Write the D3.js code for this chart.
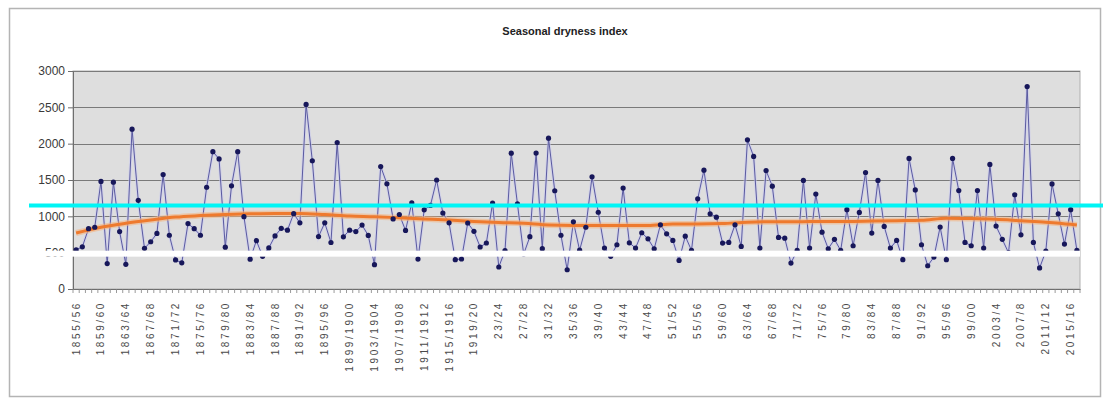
<!DOCTYPE html>
<html>
<head>
<meta charset="utf-8">
<script src="https://cdn.jsdelivr.net/npm/d3@7"></script>
<style>
  body { margin: 0; background: #fff; }
  svg { display: block; font-family: "Liberation Sans", Arial, sans-serif; }
</style>
</head>
<body>
<svg id="chart" width="1107" height="402"></svg>
<script>
// Season start years, 1855/56 through 2016/17
const seasonStart = d3.range(1855, 2017);

// Seasonal dryness index, one value per season
const dryness = [
  540, 580, 830, 850, 1480, 350, 1470, 790, 340, 2200,
  1220, 560, 650, 765, 1575, 740, 400, 360, 900, 830,
  740, 1400, 1890, 1790, 575, 1420, 1890, 995, 410, 665,
  450, 565, 730, 835, 810, 1036, 910, 2540, 1765, 722,
  910, 640, 2016, 718, 810, 790, 880, 737, 335, 1686,
  1448, 965, 1025, 806, 1185, 412, 1090, 1150, 1500, 1045,
  910, 404, 413, 908, 794, 578, 633, 1182, 303, 530,
  1869, 1172, 480, 720, 1870, 555, 2075, 1352, 740, 265,
  924, 534, 850, 1545, 1056, 563, 450, 609, 1389, 636,
  563, 774, 691, 554, 883, 759, 668, 393, 727, 531,
  1241, 1635, 1035, 989, 632, 641, 884, 586, 2053, 1824,
  563, 1630, 1415, 710, 700, 357, 531, 1494, 563, 1306,
  782, 554, 683, 531, 1091, 595, 1054, 1603, 769, 1494,
  861, 563, 669, 403, 1797, 1364, 609, 320, 440, 853,
  403, 1797, 1355, 641, 595, 1355, 563, 1714, 866, 683,
  500, 1297, 746, 2785, 641, 290, 520, 1446, 1035, 618,
  1091, 531
];

// Smoothed trend, sampled at every fourth season
const trendIndex = [0, 4, 8, 12, 16, 20, 24, 28, 32, 36, 40, 44, 48, 52, 56, 60, 64, 68, 72, 76,
  80, 84, 88, 92, 96, 100, 104, 108, 112, 116, 120, 124, 128, 132, 136, 140, 144, 148, 152, 156, 160, 161];
const trendValues = [770, 850, 905, 950, 990, 1010, 1025, 1035, 1040, 1040, 1025, 1005, 995, 980, 965,
  950, 930, 915, 905, 880, 875, 875, 875, 875, 895, 895, 900, 920, 925, 925, 930, 930, 935, 940,
  945, 975, 970, 960, 940, 920, 890, 880];

// Axis tick labels, one for every fourth season
const tickLabels = ["1855/56", "1859/60", "1863/64", "1867/68", "1871/72", "1875/76", "1879/80",
  "1883/84", "1887/88", "1891/92", "1895/96", "1899/1900", "1903/1904", "1907/1908", "1911/1912",
  "1915/1916", "1919/20", "23/24", "27/28", "31/32", "35/36", "39/40", "43/44", "47/48", "51/52",
  "55/56", "59/60", "63/64", "67/68", "71/72", "75/76", "79/80", "83/84", "87/88", "91/92",
  "95/96", "99/00", "2003/4", "2007/8", "2011/12", "2015/16"];
const yTicks = [0, 500, 1000, 1500, 2000, 2500, 3000];

// Highlight levels laid over the chart
const thresholdLevel = 1150;
const maskBand = [445, 527];

const svg = d3.select("#chart");
const plotLeft = 73, plotRight = 1080, plotTop = 71, plotBottom = 289;

const x = d3.scaleBand().domain(seasonStart).range([plotLeft, plotRight]).paddingInner(0).paddingOuter(0);
const xc = d => x(d) + x.bandwidth() / 2;
const y = d3.scaleLinear().domain([0, 3000]).range([plotBottom, plotTop]);

// Outer chart frame
svg.append("rect").attr("x", 9.5).attr("y", 8.5).attr("width", 1091).attr("height", 388)
  .attr("fill", "#fff").attr("stroke", "#b4b4b4").attr("stroke-width", 1.5);

// Title
svg.append("text").attr("x", 565).attr("y", 35).attr("text-anchor", "middle")
  .attr("font-size", 11).attr("font-weight", "bold").attr("fill", "#222")
  .text("Seasonal dryness index");

// Plot area
svg.append("rect").attr("x", plotLeft).attr("y", plotTop)
  .attr("width", plotRight - plotLeft).attr("height", plotBottom - plotTop)
  .attr("fill", "#dedede").attr("stroke", "#b0b0b0").attr("stroke-width", 1);

// Horizontal gridlines
svg.append("g").selectAll("line").data(yTicks.filter(v => v > 0)).join("line")
  .attr("x1", plotLeft).attr("x2", plotRight)
  .attr("y1", d => Math.round(y(d)) + 0.5).attr("y2", d => Math.round(y(d)) + 0.5)
  .attr("stroke", "#7a7a7a").attr("stroke-width", 1.2);

// Y axis
const yAxis = svg.append("g").attr("transform", `translate(${plotLeft},0)`)
  .call(d3.axisLeft(y).tickValues(yTicks).tickSize(5).tickPadding(3).tickFormat(d3.format("d")));
yAxis.select(".domain").attr("stroke", "#6e6e6e");
yAxis.selectAll(".tick line").attr("stroke", "#6e6e6e");
yAxis.selectAll("text").attr("font-size", 12).attr("fill", "#3a3a3a")
  .attr("font-family", "'Liberation Sans', Arial, sans-serif");

// X axis with labels at every fourth season
const labelFor = new Map(tickLabels.map((t, i) => [seasonStart[i * 4], t]));
const xAxis = svg.append("g").attr("transform", `translate(0,${plotBottom})`)
  .call(d3.axisBottom(x).tickValues(tickLabels.map((t, i) => seasonStart[i * 4]))
    .tickSize(0).tickFormat(d => labelFor.get(d)));
xAxis.select(".domain").attr("stroke", "#6e6e6e");
xAxis.selectAll("text")
  .attr("transform", "rotate(-90)")
  .attr("text-anchor", "end")
  .attr("x", -12).attr("y", 0).attr("dy", "0.35em")
  .attr("font-size", 10).attr("letter-spacing", 2.6).attr("fill", "#4a4a4a")
  .attr("font-family", "'Liberation Sans', Arial, sans-serif");

// Category boundary tick marks
svg.append("g").selectAll("line").data(seasonStart.concat([null])).join("line")
  .attr("x1", (d, i) => plotLeft + i * x.bandwidth()).attr("x2", (d, i) => plotLeft + i * x.bandwidth())
  .attr("y1", plotBottom).attr("y2", plotBottom + 4)
  .attr("stroke", "#808080").attr("stroke-width", 0.8);

// Dryness series: line and markers
const line = d3.line().x((d, i) => xc(seasonStart[i])).y(d => y(d));
svg.append("path").datum(dryness).attr("d", line)
  .attr("fill", "none").attr("stroke", "#c9c9ee").attr("stroke-width", 3).attr("opacity", 0.6);
svg.append("path").datum(dryness).attr("d", line)
  .attr("fill", "none").attr("stroke", "#5a5aa0").attr("stroke-width", 1);

// Trend line
const trendLine = d3.line().curve(d3.curveMonotoneX)
  .x((d, i) => xc(seasonStart[trendIndex[i]])).y(d => y(d));
svg.append("path").datum(trendValues).attr("d", trendLine)
  .attr("fill", "none").attr("stroke", "#f6b07a").attr("stroke-width", 6).attr("opacity", 0.55);
svg.append("path").datum(trendValues).attr("d", trendLine)
  .attr("fill", "none").attr("stroke", "#ee7a2e").attr("stroke-width", 3);

svg.append("g").selectAll("circle").data(dryness).join("circle")
  .attr("cx", (d, i) => xc(seasonStart[i])).attr("cy", d => y(d)).attr("r", 2.6)
  .attr("fill", "#17175a");

// White masking band and cyan threshold line
svg.append("rect").attr("x", 28).attr("width", plotRight - 28)
  .attr("y", y(maskBand[1])).attr("height", y(maskBand[0]) - y(maskBand[1]))
  .attr("fill", "#ffffff");
svg.append("line").attr("x1", 29).attr("x2", 1103)
  .attr("y1", y(thresholdLevel)).attr("y2", y(thresholdLevel))
  .attr("stroke", "#00f5f5").attr("stroke-width", 4);
</script>
</body>
</html>
